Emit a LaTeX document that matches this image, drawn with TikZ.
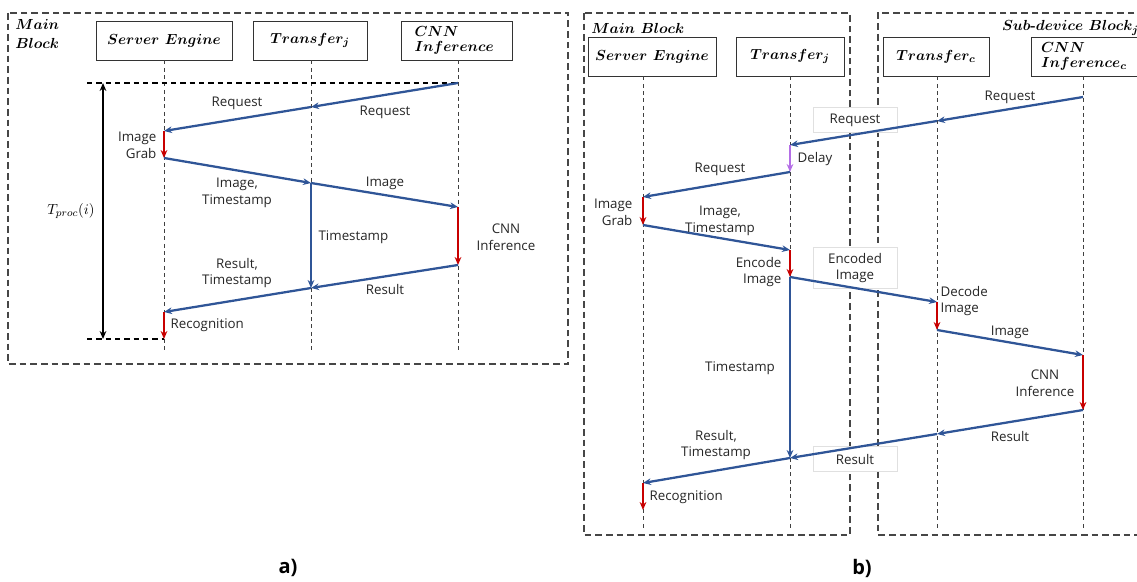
\documentclass[tikz,border=0pt]{standalone}
\usepackage{fontspec}
\setsansfont{Open Sans}
\usetikzlibrary{arrows.meta}
\definecolor{flow}{RGB}{47,85,151}
\definecolor{proc}{RGB}{200,0,0}
\definecolor{dly}{RGB}{180,110,230}
\definecolor{framec}{RGB}{70,70,70}
\begin{document}
\begin{tikzpicture}[x=0.75pt,y=-0.75pt,
  msg/.style={draw=flow, line width=1.7pt, -{Stealth[length=6pt,width=5pt]}},
  act/.style={draw=proc, line width=1.7pt, -{Stealth[length=6pt,width=5pt]}},
  dact/.style={draw=dly, line width=1.7pt, -{Stealth[length=6pt,width=5pt]}},
  life/.style={draw=black!75, line width=0.6pt, dash pattern=on 3pt off 2.5pt},
  frame/.style={draw=framec, line width=0.8pt, dash pattern=on 5pt off 3pt},
  guide/.style={draw=black, line width=0.8pt, dash pattern=on 4pt off 3pt},
  hbox/.style={draw=black!80, line width=0.7pt, fill=white, inner sep=0pt, font=\bfseries\boldmath\fontsize{10.8}{12}\selectfont},
  lbl/.style={font=\sffamily\fontsize{10}{12.5}\selectfont, align=center, inner sep=1pt, text=black!85},
  tagbox/.style={lbl, draw=black!12, fill=white, minimum width=84*0.75pt, minimum height=25*0.75pt},
  ttl/.style={font=\bfseries\boldmath\fontsize{10.8}{14.5}\selectfont, inner sep=0pt, align=left},
  caplbl/.style={font=\sffamily\bfseries\fontsize{15}{18}\selectfont, inner sep=0pt}
]
\useasboundingbox (0,0) rectangle (1137,581);

%%%%%%%%%%%%%%%% panel a %%%%%%%%%%%%%%%%
\draw[frame] (8,13) rectangle (568,364);
\node[ttl, anchor=north west] (amain) at (15,19) {$Main$\\$Block$};

\node[hbox, minimum width=136*0.75pt, minimum height=39*0.75pt] (ase) at (164,40.5) {$Server\ Engine$};
\node[hbox, minimum width=114*0.75pt, minimum height=39*0.75pt] (atr) at (310,40.5) {$Transfer_j$};
\node[hbox, minimum width=111*0.75pt, minimum height=39*0.75pt, align=left, text width=84*0.75pt] (acn) at (456.5,40.5) {$CNN$\\[-1pt]$Inference$};

\coordinate (asebot) at (164,352);
\coordinate (atrbot) at (311,352);
\coordinate (acnbot) at (458,352);
\draw[life] (ase.south -| asebot) -- (asebot);
\draw[life] (atr.south -| atrbot) -- (atrbot);
\draw[life] (acn.south -| acnbot) -- (acnbot);

\coordinate (a1) at (458,83);
\coordinate (a2) at (311,107);
\coordinate (a3) at (164,131);
\coordinate (a4) at (164,158);
\coordinate (a5) at (311,183);
\coordinate (a6) at (458,207);
\coordinate (a7) at (458,265);
\coordinate (a8) at (311,288);
\coordinate (a9) at (164,312);
\coordinate (a10) at (164,339);
\coordinate (gl1) at (87,83);
\coordinate (gl2) at (87,339);
\coordinate (tp1) at (103,83);
\coordinate (tp2) at (103,339);

\draw[guide] (gl1) -- (a1);
\draw[guide] (gl2) -- (a10);
\draw[line width=1.3pt, {Stealth[length=6pt,width=5pt]}-{Stealth[length=6pt,width=5pt]}] (tp1) -- (tp2);
\node[font=\fontsize{11}{13}\selectfont, inner sep=0pt] (tproc) at (71,211) {$T_{proc}(i)$};

\draw[msg] (a1) -- (a2);
\draw[msg] (a2) -- (a3);
\draw[act] (a3) -- (a4);
\draw[msg] (a4) -- (a5);
\draw[msg] (a5) -- (a6);
\draw[act] (a6) -- (a7);
\draw[msg] (a5) -- (a8);
\draw[msg] (a7) -- (a8);
\draw[msg] (a8) -- (a9);
\draw[act] (a9) -- (a10);

\node[lbl] (la1) at (385,112) {Request};
\node[lbl] (la2) at (237,103) {Request};
\node[lbl, align=right, anchor=east] (la3) at (158,145) {Image\\Grab};
\node[lbl] (la4) at (237,193) {Image,\\Timestamp};
\node[lbl] (la5) at (385,183) {Image};
\node[lbl] (la6) at (506,237) {CNN\\Inference};
\node[lbl, anchor=west] (la7) at (317,237) {Timestamp};
\node[lbl] (la8) at (385,289) {Result};
\node[lbl] (la9) at (237,273) {Result,\\Timestamp};
\node[lbl, anchor=west] (la10) at (169,325) {Recognition};

\node[caplbl] (capa) at (288,568) {a)};

%%%%%%%%%%%%%%%% panel b %%%%%%%%%%%%%%%%
\draw[frame] (584,13) rectangle (850,535);
\draw[frame] (1145,13) -- (878,13) -- (878,535) -- (1145,535);
\node[ttl, anchor=west] (bmain) at (591,28) {$Main\ Block$};
\node[ttl, anchor=east] (bsub) at (1139,28) {$Sub\mbox{-}device\ Block_j$};

\node[hbox, minimum width=128*0.75pt, minimum height=39*0.75pt] (bse) at (652,56.5) {$Server\ Engine$};
\node[hbox, minimum width=108*0.75pt, minimum height=39*0.75pt] (btr) at (790,56.5) {$Transfer_j$};
\node[hbox, minimum width=106*0.75pt, minimum height=39*0.75pt] (btc) at (936,56.5) {$Transfer_c$};
\node[hbox, minimum width=120*0.75pt, minimum height=39*0.75pt, align=left, text width=100*0.75pt] (bcn) at (1091,56.5) {$CNN$\\[-1pt]$Inference_c$};

\coordinate (bsebot) at (643,530);
\coordinate (btrbot) at (790,530);
\coordinate (btcbot) at (937,530);
\coordinate (bcnbot) at (1083,530);
\draw[life] (bse.south -| bsebot) -- (bsebot);
\draw[life] (btr.south -| btrbot) -- (btrbot);
\draw[life] (btc.south -| btcbot) -- (btcbot);
\draw[life] (bcn.south -| bcnbot) -- (bcnbot);

\coordinate (b1) at (1083,97);
\coordinate (b2) at (937,121);
\coordinate (b3) at (790,145);
\coordinate (b4) at (790,172);
\coordinate (b5) at (643,197);
\coordinate (b6) at (643,225);
\coordinate (b7) at (790,250);
\coordinate (b8) at (790,277);
\coordinate (b9) at (937,302);
\coordinate (b10) at (937,330);
\coordinate (b11) at (1083,355);
\coordinate (b12) at (1083,410);
\coordinate (b13) at (937,434);
\coordinate (b14) at (790,458);
\coordinate (b15) at (643,483);
\coordinate (b16) at (643,510);

\node[tagbox] (tb1) at (855,120) {Request};
\node[tagbox, minimum height=41*0.75pt] (tb2) at (855,268) {Encoded\\Image};
\node[tagbox] (tb3) at (855,459) {Result};

\draw[msg] (b1) -- (b2);
\draw[msg] (b2) -- (b3);
\draw[dact] (b3) -- (b4);
\draw[msg] (b4) -- (b5);
\draw[act] (b5) -- (b6);
\draw[msg] (b6) -- (b7);
\draw[act] (b7) -- (b8);
\draw[msg] (b8) -- (b9);
\draw[act] (b9) -- (b10);
\draw[msg] (b10) -- (b11);
\draw[act] (b11) -- (b12);
\draw[msg] (b12) -- (b13);
\draw[msg] (b13) -- (b14);
\draw[msg] (b8) -- (b14);
\draw[msg] (b14) -- (b15);
\draw[act] (b15) -- (b16);

\node[lbl] (lb1) at (1010,97) {Request};
\node[lbl, anchor=west] (lb2) at (796,159) {Delay};
\node[lbl] (lb3) at (720,169) {Request};
\node[lbl, align=right, anchor=east] (lb4) at (634,212) {Image\\Grab};
\node[lbl] (lb5) at (720,221) {Image,\\Timestamp};
\node[lbl, align=right, anchor=east] (lb6) at (783,272) {Encode\\Image};
\node[lbl, align=left, anchor=west] (lb7) at (939,301) {Decode\\Image};
\node[lbl] (lb8) at (1010,332) {Image};
\node[lbl] (lb9) at (1045,383) {CNN\\Inference};
\node[lbl] (lb10) at (1010,436) {Result};
\node[lbl] (lb11) at (740,368) {Timestamp};
\node[lbl] (lb12) at (716,445) {Result,\\Timestamp};
\node[lbl, anchor=west] (lb13) at (648,497) {Recognition};

\node[caplbl] (capb) at (862,568) {b)};
\end{tikzpicture}
\end{document}
